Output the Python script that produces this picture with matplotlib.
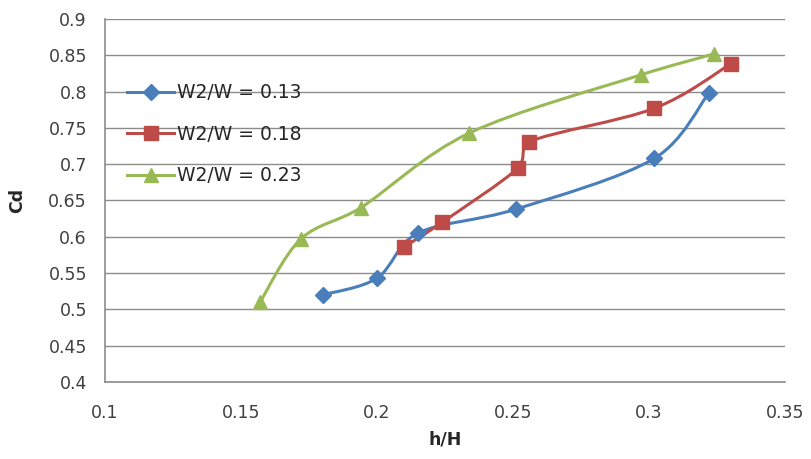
import matplotlib
matplotlib.use("Agg")
import matplotlib.pyplot as plt
from matplotlib.path import Path
from matplotlib.patches import PathPatch
import numpy as np

# Data
labels = ["W2/W = 0.13", "W2/W = 0.18", "W2/W = 0.23"]
colors = ["#4A7EBB", "#BE4B48", "#98B954"]
markers = ["D", "s", "^"]

x_013 = [0.180, 0.200, 0.215, 0.251, 0.302, 0.322]
y_013 = [0.520, 0.543, 0.605, 0.638, 0.708, 0.798]

x_018 = [0.210, 0.224, 0.252, 0.256, 0.302, 0.330]
y_018 = [0.586, 0.620, 0.695, 0.731, 0.777, 0.838]

x_023 = [0.157, 0.172, 0.194, 0.234, 0.297, 0.324]
y_023 = [0.510, 0.597, 0.640, 0.743, 0.823, 0.852]

series_x = [x_013, x_018, x_023]
series_y = [y_013, y_018, y_023]

xticks = [0.1, 0.15, 0.2, 0.25, 0.3, 0.35]
yticks = [0.4, 0.45, 0.5, 0.55, 0.6, 0.65, 0.7, 0.75, 0.8, 0.85, 0.9]


def smooth_path(ax, xs, ys, tension=1 / 6, max_frac=0.4):
    # Excel-like smoothed line: Catmull-Rom segments as cubic Bezier in
    # display space, handles clamped so short segments don't loop
    pts = ax.transData.transform(np.column_stack([xs, ys]))
    n = len(pts)
    verts = [pts[0]]
    codes = [Path.MOVETO]
    for i in range(n - 1):
        p0 = pts[i - 1] if i > 0 else pts[i]
        p1 = pts[i]
        p2 = pts[i + 1]
        p3 = pts[i + 2] if i + 2 < n else pts[i + 1]
        seg = np.hypot(*(p2 - p1))
        d1 = (p2 - p0) * tension
        d2 = (p3 - p1) * tension
        for d in (d1, d2):
            ln = np.hypot(*d)
            if ln > max_frac * seg and ln > 0:
                d *= max_frac * seg / ln
        verts += [p1 + d1, p2 - d2, p2]
        codes += [Path.CURVE4] * 3
    return Path(verts, codes)


plt.rcParams["font.family"] = ["DejaVu Sans"]

fig, ax = plt.subplots(figsize=(8.12, 4.59), dpi=100)
fig.subplots_adjust(left=0.1293, right=0.9667, bottom=0.1678, top=0.9586)

ax.set_xlim(0.1, 0.35)
ax.set_ylim(0.4, 0.9)
ax.set_xticks(xticks)
ax.set_yticks(yticks)
ax.set_xticklabels([f"{t:g}" for t in xticks])
ax.set_yticklabels([f"{t:g}" for t in yticks])
ax.tick_params(length=0, labelsize=12.5, labelcolor="#404040")
ax.tick_params(axis="x", pad=16)
ax.tick_params(axis="y", pad=13)

ax.grid(axis="y", color="#8C8C8C", linewidth=1)
ax.set_axisbelow(True)
for side in ["top", "right"]:
    ax.spines[side].set_visible(False)
for side in ["left", "bottom"]:
    ax.spines[side].set_color("#8C8C8C")
    ax.spines[side].set_linewidth(1.2)

fig.canvas.draw()
for xs, ys, c, m, lab in zip(series_x, series_y, colors, markers, labels):
    path = smooth_path(ax, xs, ys)
    patch = PathPatch(path, facecolor="none", edgecolor=c, linewidth=2.2,
                      transform=None, zorder=3)
    ax.add_artist(patch)
    ms = 8 if m == "D" else 10
    ax.plot(xs, ys, linestyle="none", marker=m, color=c, markersize=ms,
            zorder=4)
    ax.plot([], [], color=c, marker=m, markersize=ms, linewidth=2.2, label=lab)

ax.legend(loc="upper left", bbox_to_anchor=(0.005, 0.875), frameon=False,
          fontsize=13.5, handlelength=2.5, handletextpad=0.15,
          labelspacing=1.2, labelcolor="#262626", borderaxespad=0.6)

ax.set_xlabel("h/H", fontsize=12.5, fontweight="bold", color="#262626",
              labelpad=6)
ax.set_ylabel("Cd", fontsize=12.5, fontweight="bold", color="#262626",
              labelpad=16)

fig.savefig("out.png", dpi=100)
